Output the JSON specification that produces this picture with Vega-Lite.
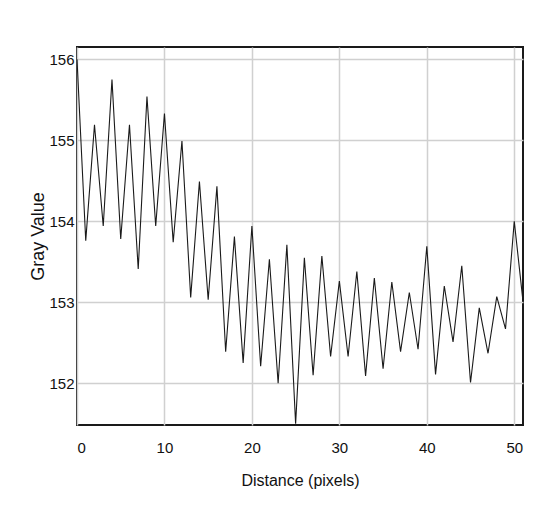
{
  "$schema": "https://vega.github.io/schema/vega-lite/v6.json",
  "autosize": {"type": "none"},
  "padding": {"left": 77, "top": 47, "right": 23, "bottom": 104},
  "width": 446,
  "height": 378,
  "background": "white",
  "config": {
    "view": {"stroke": "#1a1a1a", "strokeWidth": 2},
    "axis": {
      "labelFont": "Liberation Sans, Arial, sans-serif",
      "titleFont": "Liberation Sans, Arial, sans-serif",
      "labelFontSize": 15,
      "titleFontSize": 16,
      "titleFontWeight": "normal",
      "labelColor": "#111",
      "titleColor": "#111",
      "gridColor": "#d0d0d0",
      "gridWidth": 1.5,
      "domain": false,
      "ticks": false
    }
  },
  "data": {
    "values": [
      {"d": 0, "v": 156.0}, {"d": 1, "v": 153.76}, {"d": 2, "v": 155.19}, {"d": 3, "v": 153.94},
      {"d": 4, "v": 155.75}, {"d": 5, "v": 153.78}, {"d": 6, "v": 155.19}, {"d": 7, "v": 153.41},
      {"d": 8, "v": 155.54}, {"d": 9, "v": 153.94}, {"d": 10, "v": 155.33}, {"d": 11, "v": 153.74},
      {"d": 12, "v": 154.99}, {"d": 13, "v": 153.06}, {"d": 14, "v": 154.49}, {"d": 15, "v": 153.03},
      {"d": 16, "v": 154.43}, {"d": 17, "v": 152.39}, {"d": 18, "v": 153.81}, {"d": 19, "v": 152.25},
      {"d": 20, "v": 153.94}, {"d": 21, "v": 152.21}, {"d": 22, "v": 153.53}, {"d": 23, "v": 152.0},
      {"d": 24, "v": 153.71}, {"d": 25, "v": 151.5}, {"d": 26, "v": 153.55}, {"d": 27, "v": 152.1},
      {"d": 28, "v": 153.57}, {"d": 29, "v": 152.33}, {"d": 30, "v": 153.26}, {"d": 31, "v": 152.33},
      {"d": 32, "v": 153.38}, {"d": 33, "v": 152.09}, {"d": 34, "v": 153.3}, {"d": 35, "v": 152.18},
      {"d": 36, "v": 153.25}, {"d": 37, "v": 152.39}, {"d": 38, "v": 153.12}, {"d": 39, "v": 152.42},
      {"d": 40, "v": 153.69}, {"d": 41, "v": 152.11}, {"d": 42, "v": 153.2}, {"d": 43, "v": 152.51},
      {"d": 44, "v": 153.45}, {"d": 45, "v": 152.01}, {"d": 46, "v": 152.93}, {"d": 47, "v": 152.37},
      {"d": 48, "v": 153.07}, {"d": 49, "v": 152.67}, {"d": 50, "v": 154.0}, {"d": 51, "v": 153.01}
    ]
  },
  "mark": {"type": "line", "stroke": "#1a1a1a", "strokeWidth": 1.1, "clip": true},
  "encoding": {
    "x": {
      "field": "d", "type": "quantitative",
      "scale": {"domain": [0, 51], "nice": false, "zero": false},
      "axis": {"values": [0, 10, 20, 30, 40, 50], "title": "Distance (pixels)", "labelPadding": 15, "titlePadding": 17}
    },
    "y": {
      "field": "v", "type": "quantitative",
      "scale": {"domain": [151.485, 156.15], "nice": false, "zero": false},
      "axis": {"values": [152, 153, 154, 155, 156], "title": "Gray Value", "titleFontSize": 18, "labelPadding": 3, "titlePadding": 1}
    }
  }
}
